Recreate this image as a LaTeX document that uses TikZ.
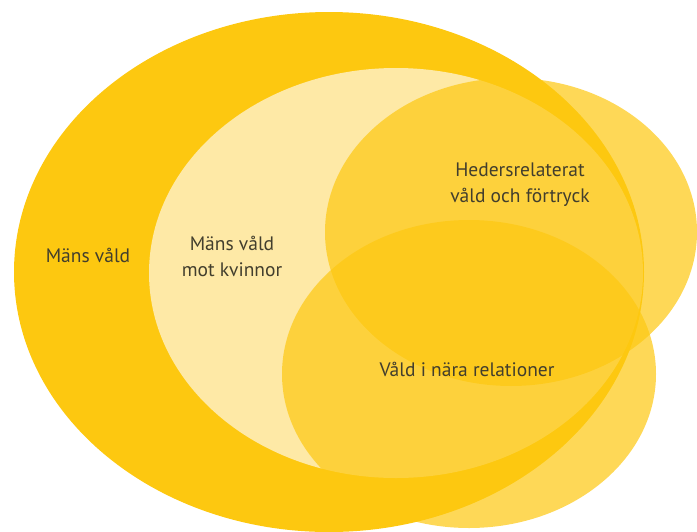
\documentclass[tikz,border=0pt]{standalone}
\usepackage{fontspec}
\setmainfont{PT Sans}
\usetikzlibrary{calc}
\definecolor{gulmork}{RGB}{253,200,16}
\definecolor{gulljus}{RGB}{254,233,166}
\definecolor{textgra}{RGB}{66,62,45}
\tikzset{
  etikett/.style={text=textgra, font=\fontsize{19.5}{26}\selectfont, align=center, inner sep=0pt},
  genomskinlig/.style={fill=gulmork, fill opacity=0.7}
}
\begin{document}
\begin{tikzpicture}[x=1pt,y=-1pt]
  \useasboundingbox (0,0) rectangle (697,531);
  \coordinate (M) at (329,272);
\coordinate (K) at (396,273);
\coordinate (H) at (511,232);
\coordinate (N) at (469,374);
  \fill[gulmork] (M) ellipse [x radius=315, y radius=260];
\fill[gulljus] (K) ellipse [x radius=247, y radius=205];
\fill[genomskinlig] (H) ellipse [x radius=186, y radius=154];
\fill[genomskinlig] (N) ellipse [x radius=187, y radius=154];
%\draw[red] (N) circle (2pt);
\node[etikett] (mans) at (88,255) {Mäns våld};
\node[etikett] (kvinnor) at (232,256) {Mäns våld\\mot kvinnor};
\node[etikett] (heder) at (520,185) {Hedersrelaterat\\våld och förtryck};
\node[etikett] (nara) at (467,369) {Våld i nära relationer};
\end{tikzpicture}
\end{document}
